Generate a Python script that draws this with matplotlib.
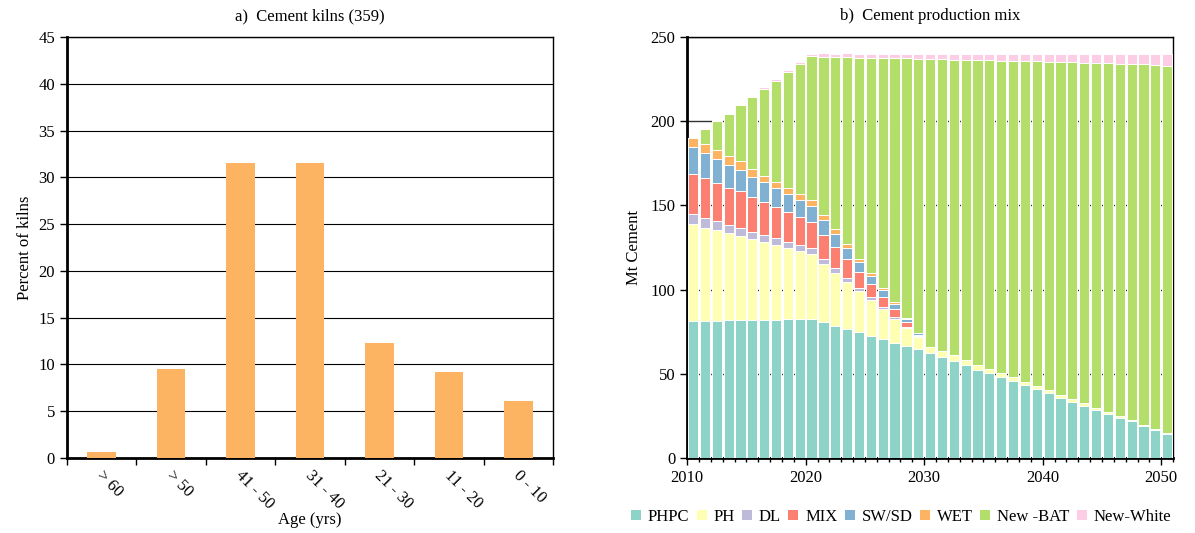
import numpy as np
import matplotlib
matplotlib.use("Agg")
import matplotlib.pyplot as plt
from matplotlib.patches import Patch

plt.rcParams['font.family'] = ['Liberation Serif', 'DejaVu Serif']
plt.rcParams['font.size'] = 12

# a) kiln age distribution
age_labels = ["> 60", "> 50", "41 - 50", "31 - 40", "21 - 30", "11 - 20", "0 - 10"]
kiln_pct = [0.6, 9.5, 31.5, 31.5, 12.3, 9.2, 6.1]

# b) cement production mix (Mt), 2010-2050
years = list(range(2010, 2051))
phpc = [81.5, 81.5, 81.6, 81.7, 81.8, 81.9, 82.0, 82.1, 82.3, 82.5, 82.7,
        80.6, 78.6, 76.6, 74.6, 72.6, 70.5, 68.5, 66.5, 64.5, 62.5,
        60.2, 57.6, 55.0, 52.4, 50.3, 47.9, 45.5, 43.2, 40.8, 38.4,
        35.8, 33.4, 31.1, 28.7, 26.3, 23.9, 21.8, 19.2, 16.8, 14.4]
ph = [57.3, 55.3, 53.6, 51.7, 50.0, 48.1, 46.3, 44.4, 42.2, 40.2, 38.3,
      34.8, 31.4, 28.1, 24.6, 21.2, 17.8, 14.2, 10.7, 7.2, 3.6,
      3.3, 3.4, 3.2, 3.0, 2.8, 2.6, 2.4, 2.2, 2.0, 1.8,
      1.6, 1.4, 1.3, 1.1, 0.9, 0.8, 0.6, 0.5, 0.4, 0.2]
dl = [5.9, 5.6, 5.3, 5.0, 4.7, 4.4, 4.1, 3.9, 3.8, 3.7, 3.5,
      3.0, 2.6, 2.1, 1.9, 1.6, 1.2, 1.0, 0.8, 0.6] + [0.0] * 21
mix = [24.1, 23.8, 22.8, 22.1, 21.8, 20.4, 19.6, 18.5, 17.6, 16.4, 15.5,
       14.2, 12.5, 11.3, 9.4, 7.7, 6.3, 4.8, 2.9, 1.0] + [0.0] * 21
swsd = [15.7, 14.8, 14.5, 13.5, 12.8, 12.2, 11.9, 11.3, 10.7, 10.1, 9.6,
        8.7, 7.9, 6.3, 5.9, 5.0, 4.0, 2.8, 1.8, 0.8] + [0.0] * 21
wet = [5.7, 5.7, 5.3, 5.1, 5.0, 4.4, 3.8, 3.9, 3.9, 3.8, 3.4,
       3.2, 2.8, 2.8, 2.0, 1.8, 1.3, 1.2, 0.5, 0.3] + [0.0] * 21
new_bat = [0.0, 8.4, 16.8, 25.4, 33.6, 42.8, 51.6, 60.0, 68.5, 77.0, 85.4,
           93.8, 102.0, 110.6, 119.2, 127.6, 136.3, 144.8, 154.0, 162.4, 170.7,
           173.2, 175.6, 178.3, 180.9, 183.1, 185.5, 187.9, 190.2, 192.7, 195.1,
           197.7, 200.1, 202.3, 204.7, 207.1, 209.4, 211.5, 214.0, 216.2, 218.4]
new_white = [0.0, 0.0, 0.5, 0.5, 0.7, 0.8, 1.0, 1.0, 1.2, 1.3, 1.6,
             1.9, 2.2, 2.4, 2.5, 2.6, 2.7, 2.8, 2.9, 3.2, 3.3,
             3.4, 3.5, 3.6, 3.8, 3.9, 4.1, 4.3, 4.5, 4.6, 4.8,
             5.0, 5.2, 5.4, 5.6, 5.8, 6.0, 6.2, 6.4, 6.7, 7.1]

series = [("PHPC", phpc, "#8DD3C7"), ("PH", ph, "#FFFFB3"), ("DL", dl, "#BEBADA"),
          ("MIX", mix, "#FB8072"), ("SW/SD", swsd, "#80B1D3"), ("WET", wet, "#FDB462"),
          ("New -BAT", new_bat, "#B3DE69"), ("New-White", new_white, "#FCCDE5")]

fig = plt.figure(figsize=(11.95, 5.33), dpi=100)

#%% panel a
ax1 = fig.add_axes([0.056, 0.1407, 0.407, 0.79])
xa = np.arange(len(age_labels))
ax1.bar(xa, kiln_pct, width=0.41, color="#FDB462", zorder=3)
ax1.set_xlim(-0.5, len(age_labels) - 0.5)
ax1.set_ylim(0, 45)
ax1.set_yticks(np.arange(0, 46, 5))
ax1.yaxis.grid(True, color="black", linewidth=0.8, zorder=0)
ax1.set_xticks(np.arange(-0.5, len(age_labels), 1))
ax1.set_xticklabels([])
# labels hang down-right from just left of each bar centre
ax1.set_xticks(xa - 0.12, minor=True)
ax1.set_xticklabels(age_labels, minor=True, rotation=-45, ha="left", va="top")
ax1.tick_params(axis="x", which="minor", length=0, pad=7)
ax1.tick_params(axis="x", which="major", length=5, width=1, direction="out")
ax1.tick_params(axis="y", length=5, width=1, direction="out")
for s in ax1.spines.values():
    s.set_linewidth(1.0)
ax1.spines["left"].set_linewidth(2.0)
ax1.spines["bottom"].set_linewidth(2.0)
ax1.set_ylabel("Percent of kilns")
ax1.set_xlabel("Age (yrs)", labelpad=0)
ax1.set_title("a)  Cement kilns (359)", fontsize=12, pad=12)

#%% panel b
ax2 = fig.add_axes([0.575, 0.1407, 0.4067, 0.79])
xb = np.array(years) + 0.5
bottom = np.zeros(len(years))
handles = []
for name, vals, col in series:
    vals = np.array(vals)
    ax2.bar(xb, vals, bottom=bottom, width=0.86, color=col,
            edgecolor="white", linewidth=0.7, zorder=3)
    bottom += vals
    handles.append(Patch(facecolor=col, edgecolor="none", label=name))
ax2.set_xlim(2010, 2051)
ax2.set_ylim(0, 250)
ax2.set_yticks(np.arange(0, 251, 50))
ax2.set_xticks(np.arange(2010, 2051, 10))
ax2.set_xticks(np.arange(2010, 2052, 1), minor=True)
ax2.yaxis.grid(True, color="#333333", linewidth=1.0, zorder=0)
ax2.tick_params(axis="x", which="major", length=5, width=1, direction="out")
ax2.tick_params(axis="x", which="minor", length=3, width=1, direction="out")
ax2.tick_params(axis="y", length=5, width=1, direction="out")
for s in ax2.spines.values():
    s.set_linewidth(1.0)
ax2.spines["left"].set_linewidth(2.0)
ax2.spines["bottom"].set_linewidth(2.0)
ax2.set_ylabel("Mt Cement", labelpad=6)
ax2.set_title("b)  Cement production mix", fontsize=12, pad=12)
ax2.legend(handles=handles, loc="upper center", bbox_to_anchor=(0.44, -0.085),
           ncol=8, frameon=False, handlelength=0.6, handleheight=0.6,
           handletextpad=0.4, columnspacing=0.45, fontsize=12)

fig.savefig("out.png", dpi=100)
